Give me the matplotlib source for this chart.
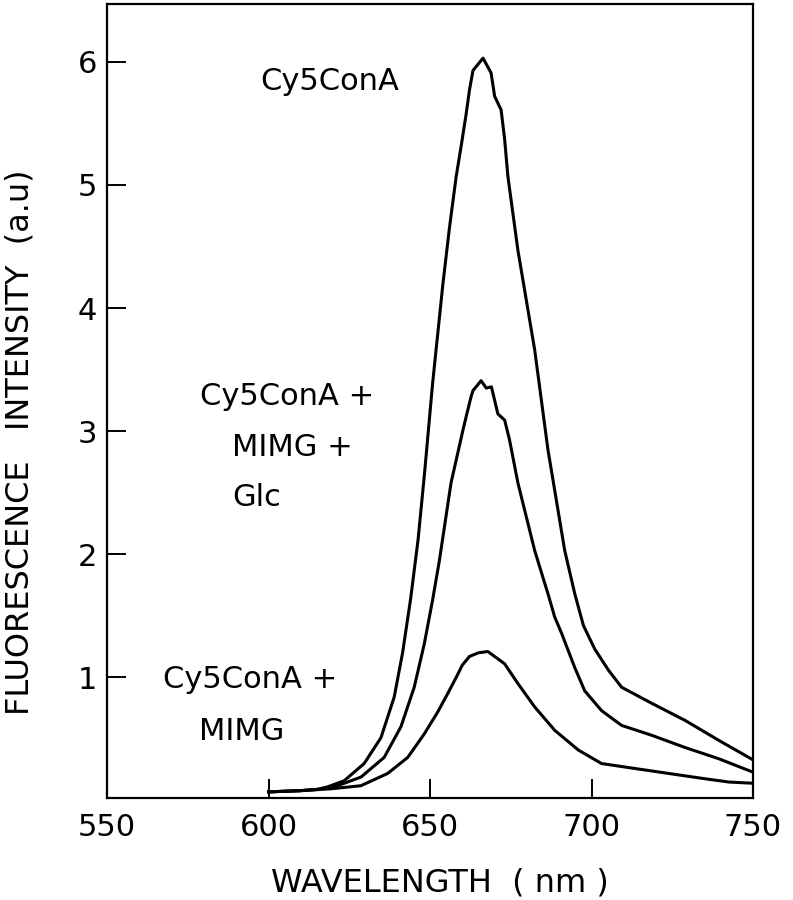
import matplotlib
matplotlib.use("Agg")
import matplotlib.pyplot as plt

# wavelength (nm) / intensity (a.u.)
wl_cona = [600, 610, 615, 618.2, 623.4, 629.6, 634.8, 638.9, 641.5, 644, 646.3,
           648.3, 650.8, 654, 656, 658.1, 659.6, 661.2, 662.2, 663.3, 666.4, 668.9,
           670, 672, 673.1, 674.1, 677.2, 682.4, 686.5, 691.7, 694.8, 697.5, 701,
           705.2, 709.3, 718.6, 729, 739.3, 750]
int_cona = [0.07, 0.08, 0.09, 0.11, 0.16, 0.30, 0.51, 0.84, 1.20, 1.64, 2.12,
            2.66, 3.39, 4.2, 4.65, 5.07, 5.31, 5.58, 5.77, 5.93, 6.03, 5.91,
            5.72, 5.61, 5.37, 5.07, 4.47, 3.66, 2.85, 2.03, 1.68, 1.42, 1.23,
            1.06, 0.92, 0.79, 0.65, 0.49, 0.33]

wl_glc = [600, 610, 615, 620.3, 628.6, 635.8, 641, 645.1, 648.2, 650.8, 652.9,
          656.5, 660.2, 661.2, 662.7, 663.3, 665.8, 667.4, 669, 671, 673.1, 674.6,
          677.2, 682.4, 686.5, 688.6, 690.7, 694.8, 697.9, 703.1, 709.3, 718.6,
          729, 739.3, 750]
int_glc = [0.07, 0.08, 0.09, 0.11, 0.19, 0.35, 0.60, 0.92, 1.27, 1.63, 1.95,
           2.58, 3.01, 3.12, 3.28, 3.33, 3.41, 3.35, 3.36, 3.14, 3.09, 2.93,
           2.58, 2.03, 1.68, 1.49, 1.36, 1.08, 0.89, 0.73, 0.61, 0.53,
           0.43, 0.34, 0.23]

wl_mimg = [600, 610, 619.3, 628.6, 636.9, 643.1, 648.2, 652.4, 655.5, 658.1, 660,
           662.2, 665, 667.9, 670, 673.1, 677.2, 682.4, 688.6, 695.9, 703.1, 713.4,
           723.8, 734.2, 742.5, 750]
int_mimg = [0.07, 0.08, 0.095, 0.12, 0.22, 0.35, 0.54, 0.72, 0.87, 1.00, 1.10,
            1.17, 1.20, 1.21, 1.17, 1.11, 0.95, 0.76, 0.57, 0.41, 0.30, 0.26,
            0.22, 0.18, 0.15, 0.14]

x_ticks = [550, 600, 650, 700, 750]
y_ticks = [1, 2, 3, 4, 5, 6]

plt.rcParams['font.family'] = ['DejaVu Sans']

fig = plt.figure(figsize=(7.93, 9), dpi=100)
ax = fig.add_axes([0.135, 0.1133, 0.8146, 0.8823])

for wl, inten in [(wl_cona, int_cona), (wl_glc, int_glc), (wl_mimg, int_mimg)]:
    ax.plot(wl, inten, color='black', lw=2.2, solid_joinstyle='round')

ax.set_xlim(550, 750)
ax.set_ylim(0.02, 6.47)
ax.set_xticks(x_ticks)
ax.set_yticks(y_ticks)
ax.tick_params(axis='both', direction='in', length=14, width=1.4, labelsize=22)
ax.tick_params(axis='x', pad=11)
ax.tick_params(axis='y', pad=7)
for s in ax.spines.values():
    s.set_linewidth(1.6)

# curve labels
tk = dict(fontsize=22, ha='left', va='center')
ax.text(597.5, 5.84, 'Cy5ConA', **tk)
ax.text(578.9, 3.28, 'Cy5ConA +', **tk)
ax.text(588.8, 2.87, 'MIMG +', **tk)
ax.text(588.8, 2.46, 'Glc', **tk)
ax.text(567.4, 0.98, 'Cy5ConA +', **tk)
ax.text(578.6, 0.56, 'MIMG', **tk)

fig.text(440 / 793, 1 - 883 / 900, 'WAVELENGTH  ( nm )', fontsize=23,
         ha='center', va='center')
fig.text(20 / 793, 1 - 442 / 900, 'FLUORESCENCE   INTENSITY  (a.u)', fontsize=23,
         rotation=90, ha='center', va='center')

fig.savefig('out.png', dpi=100)
